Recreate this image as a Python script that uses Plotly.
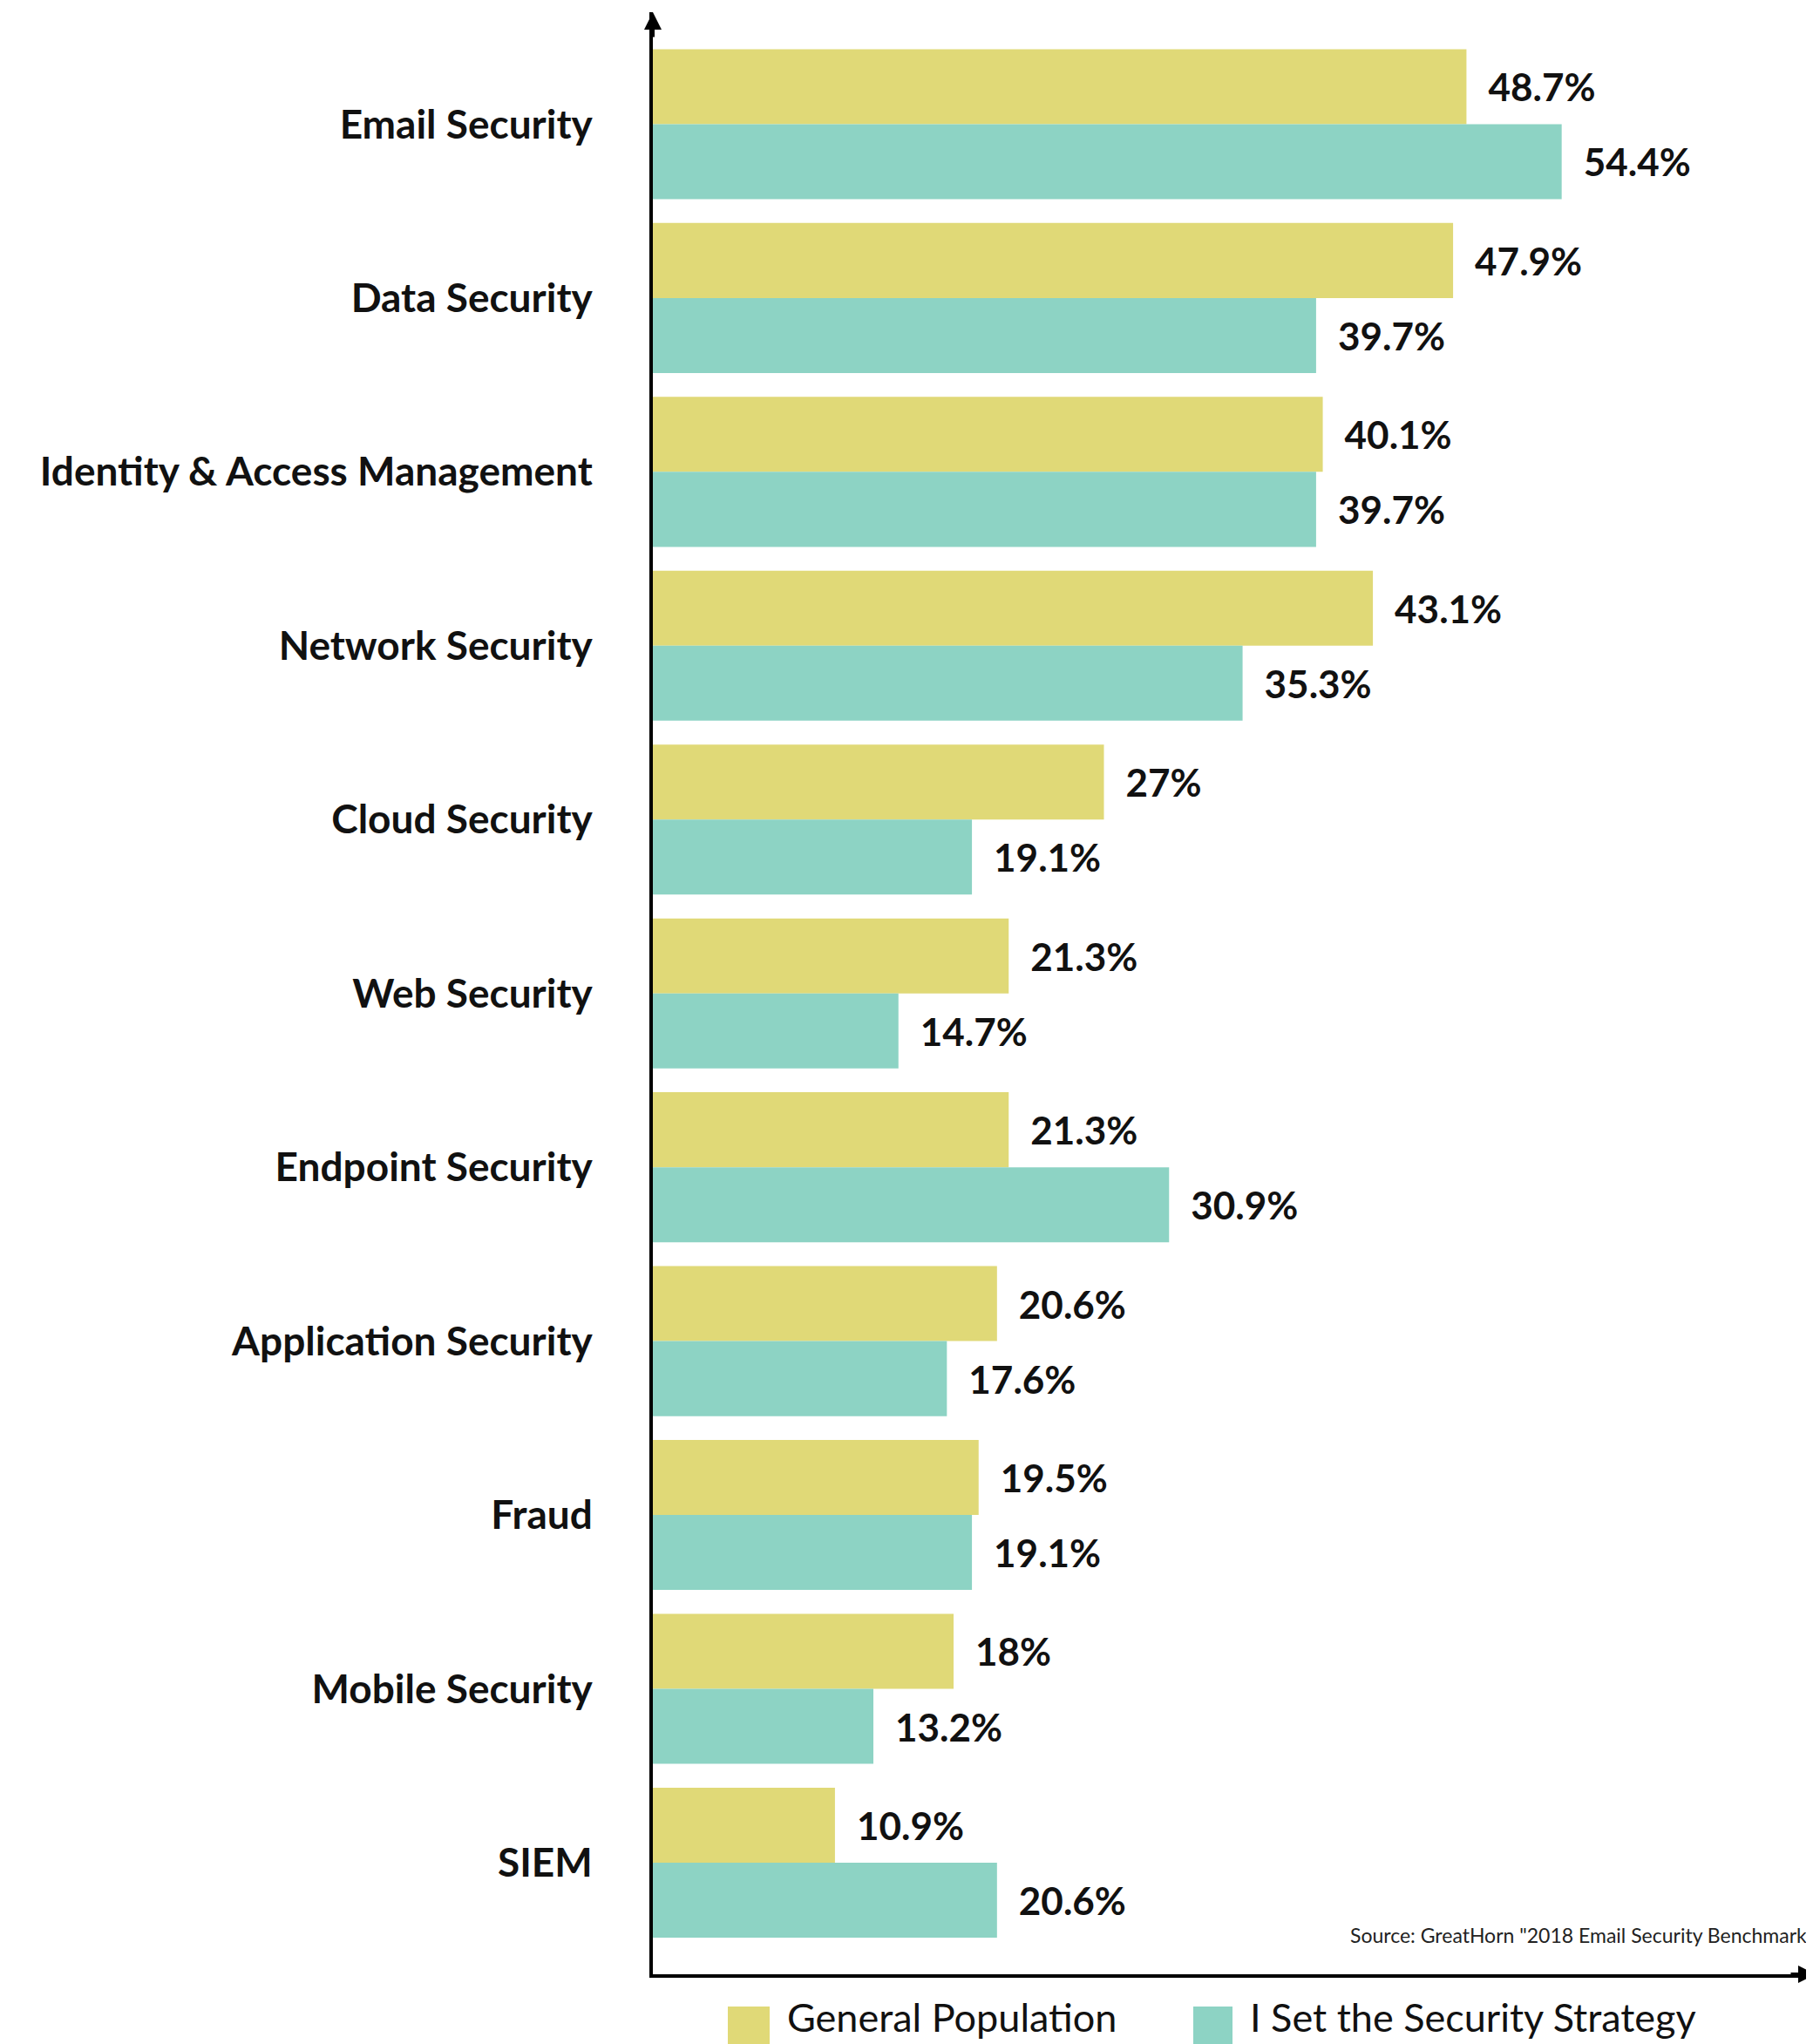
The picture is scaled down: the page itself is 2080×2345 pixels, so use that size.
import plotly.graph_objects as go

categories = ["Email Security", "Data Security", "Identity & Access Management",
              "Network Security", "Cloud Security", "Web Security", "Endpoint Security",
              "Application Security", "Fraud", "Mobile Security", "SIEM"]
general_population = [48.7, 47.9, 40.1, 43.1, 27, 21.3, 21.3, 20.6, 19.5, 18, 10.9]
security_strategy = [54.4, 39.7, 39.7, 35.3, 19.1, 14.7, 30.9, 17.6, 19.1, 13.2, 20.6]
series_names = ["General Population", "I Set the Security Strategy"]
source_text = 'Source: GreatHorn "2018 Email Security Benchmark"'

YELLOW = "#E0D977"
TEAL = "#8DD3C4"
INK = "#111111"
W, H = 2080, 2345
ML, MR, MT, MB = 741, 5, 6, 88

def labels(vals):
    return ["\u2002" + f"{v:g}%" for v in vals]

fig = go.Figure()
for name, vals, col in [(series_names[0], general_population, YELLOW),
                        (series_names[1], security_strategy, TEAL)]:
    fig.add_trace(go.Bar(
        y=categories, x=vals, name=name, orientation="h",
        marker=dict(color=col, line=dict(width=0)),
        text=labels(vals), textposition="outside", cliponaxis=False,
        textfont=dict(family="Lato", size=44, color=INK, weight=700),
        hoverinfo="skip",
    ))

fig.update_layout(
    width=W, height=H,
    margin=dict(l=ML, r=MR, t=MT, b=MB),
    paper_bgcolor="white", plot_bgcolor="white",
    barmode="group", bargap=0.137, bargroupgap=0,
    showlegend=False,
    font=dict(family="Lato", color=INK),
    xaxis=dict(range=[0, 69.6], showgrid=False, zeroline=False, showticklabels=False,
               showline=True, linecolor="black", linewidth=4, ticks=""),
    yaxis=dict(range=[10.642, -0.644], showgrid=False, zeroline=False,
               showline=True, linecolor="black", linewidth=4, ticks="",
               ticklabelstandoff=56,
               tickfont=dict(family="Lato", size=46, color=INK, weight=700)),
)

# axis arrow heads
fig.add_annotation(x=0, y=1, xref="paper", yref="paper", ax=0, ay=30, text="",
                   showarrow=True, arrowhead=2, arrowsize=1, arrowwidth=4, arrowcolor="black")
fig.add_annotation(x=1, y=0, xref="paper", yref="paper", ax=-30, ay=0, text="",
                   showarrow=True, arrowhead=2, arrowsize=1, arrowwidth=4, arrowcolor="black")

pw = W - ML - MR
ph = H - MT - MB
def px_x(x):
    return (x - ML) / pw
def px_y(y):
    return (H - MB - y) / ph

# source note
fig.add_annotation(x=1, y=px_y(2212), xref="paper", yref="paper",
                   xanchor="right", yanchor="middle", showarrow=False, text=source_text,
                   font=dict(family="Lato", size=23, color="#222222"))

# custom legend
for x0, x1, col, tx, name in [(827, 875, YELLOW, 893, series_names[0]),
                              (1361, 1406, TEAL, 1424, series_names[1])]:
    fig.add_shape(type="rect", xref="paper", yref="paper",
                  x0=px_x(x0), x1=px_x(x1), y0=px_y(2294), y1=px_y(2345),
                  fillcolor=col, line=dict(width=0))
    fig.add_annotation(x=px_x(tx), y=px_y(2306), xref="paper", yref="paper",
                       xanchor="left", yanchor="middle", showarrow=False, text=name,
                       font=dict(family="Lato", size=45, color=INK))

fig.write_html("out.html")
